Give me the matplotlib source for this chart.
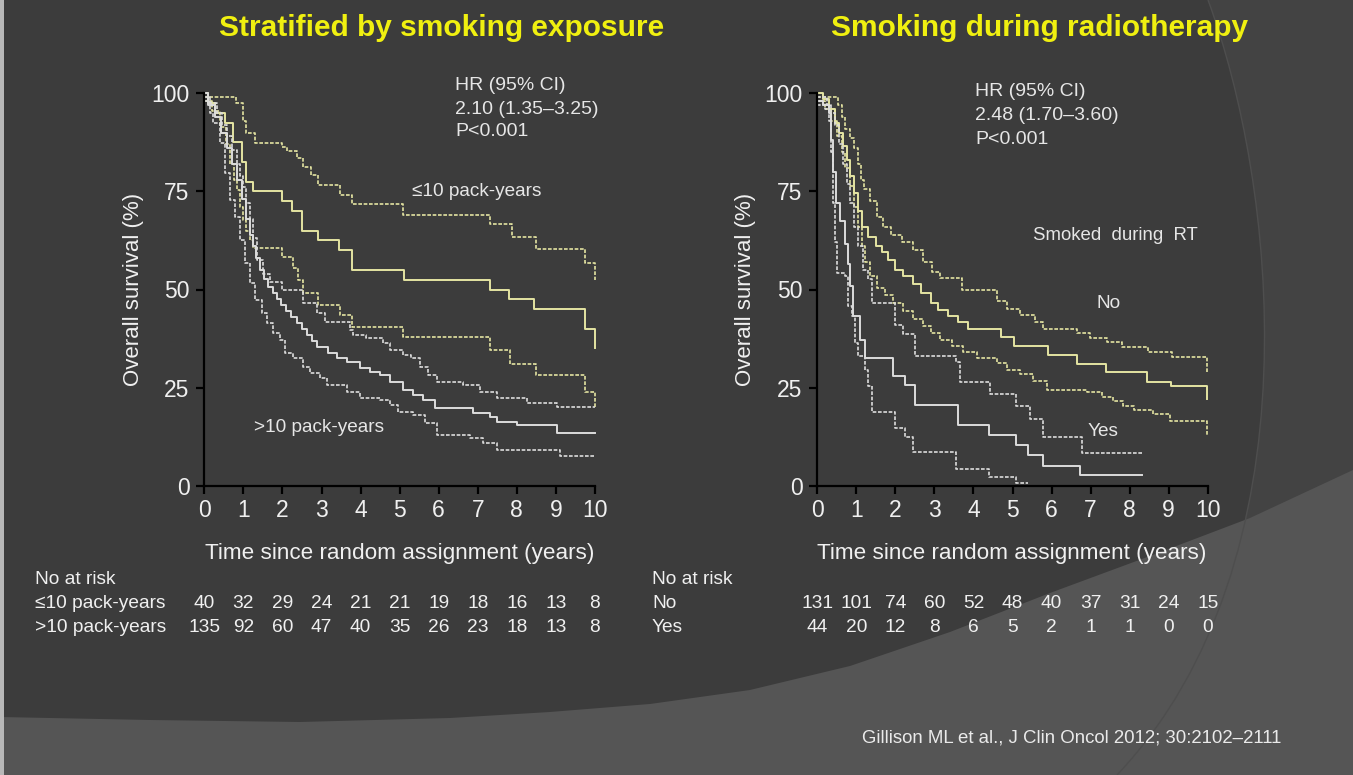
import numpy as np
import matplotlib
matplotlib.use("Agg")
import matplotlib.pyplot as plt
from matplotlib.patches import Polygon, PathPatch, Rectangle
from matplotlib.path import Path
from matplotlib.transforms import blended_transform_factory

plt.rcParams['font.family'] = ['Liberation Sans', 'DejaVu Sans']

# ---------------- data ----------------
years = list(range(0, 11))
surv_ticks = [0, 25, 50, 75, 100]

# Panel A: stratified by smoking exposure (Kaplan-Meier steps, % surviving)
low_t = [0, 0.1, 0.27, 0.53, 0.74, 0.96, 1.08, 1.25, 1.98, 2.24, 2.5, 2.9, 3.45,
         3.78, 5.1, 7.3, 7.8, 8.45, 9.75, 10.0]
low_s = [100, 97.5, 95, 92.5, 87.5, 82.5, 77.5, 75, 72.5, 70, 65, 62.5, 60,
         55, 52.5, 50, 47.5, 45, 40, 35]
low_hi_t = [0, 0.8, 1.0, 1.08, 1.3, 1.98, 2.12, 2.36, 2.53, 2.72, 2.92, 3.47, 3.77,
            5.09, 7.31, 7.87, 8.5, 9.74, 10.0]
low_hi_s = [99, 97.5, 93, 89.8, 87.4, 86.2, 85.2, 83.4, 81.3, 79.2, 76.6, 74.1, 71.8,
            69, 66.7, 63.5, 60.2, 56.7, 52.4]
low_lo_t = [0, 0.2, 0.4, 0.55, 0.66, 0.75, 0.83, 0.92, 1.0, 1.08, 1.17, 1.25, 1.98,
            2.28, 2.4, 2.53, 2.92, 3.47, 3.77, 5.09, 7.31, 7.82, 8.5, 9.74, 10.0]
low_lo_s = [98, 95.5, 91.5, 87, 82, 78, 75.4, 71, 67.7, 65, 62.6, 60.5, 58.2,
            55.4, 52.4, 49, 46, 43.5, 40.5, 37.8, 34.7, 31, 28.2, 24, 19.7]

high_t = [0, 0.1, 0.27, 0.44, 0.57, 0.7, 0.83, 0.96, 1.08, 1.17, 1.25, 1.33, 1.42,
          1.53, 1.64, 1.75, 1.85, 1.97, 2.1, 2.23, 2.36, 2.49, 2.62, 2.75, 2.88,
          3.17, 3.4, 3.64, 3.98, 4.25, 4.5, 4.75, 5.09, 5.35, 5.6, 5.9, 6.89,
          7.31, 7.48, 8.0, 9.02, 10.0]
high_s = [100, 97, 94, 90, 86, 82, 78, 73, 68, 64, 61, 58, 55,
          52.8, 50.7, 49.2, 47.7, 46, 44.4, 42.9, 41.4, 39.9, 38.4, 36.9, 35.4,
          33.7, 32.6, 31.6, 29.9, 29, 28.2, 26.5, 24.4, 23.1, 21.8, 19.7, 18.4,
          17.6, 16.3, 15.5, 13.5, 13.5]
high_hi_t = [0, 0.15, 0.32, 0.45, 0.57, 0.7, 0.83, 0.92, 1.0, 1.08, 1.17, 1.25, 1.34,
             1.5, 1.68, 1.98, 2.53, 2.88, 3.09, 3.73, 3.81, 4.15, 4.58, 4.75, 5.09,
             5.3, 5.52, 5.73, 5.95, 6.63, 7.06, 7.48, 8.25, 9.02, 10.0]
high_hi_s = [99, 97.5, 95, 92, 89, 85.5, 82, 79, 76, 72, 68, 63, 57.5,
             54, 52, 49.9, 46.5, 43.9, 41.8, 39.6, 38.4, 37.6, 36.3, 34.6, 33.3,
             32.5, 30.3, 28.2, 26.5, 25.7, 24, 22.3, 21, 20, 20]
high_lo_t = [0, 0.15, 0.23, 0.4, 0.53, 0.66, 0.79, 0.91, 1.04, 1.17, 1.3, 1.47, 1.6,
             1.77, 1.94, 2.06, 2.28, 2.53, 2.7, 2.96, 3.13, 3.64, 3.98, 4.5, 4.75,
             4.97, 5.35, 5.65, 5.95, 6.8, 7.14, 7.48, 9.1, 10.0]
high_lo_s = [98, 95, 92.4, 87.3, 79.6, 72.8, 68.6, 62.6, 56.7, 51.6, 47.3, 43.9, 41.4,
             38.8, 37.1, 33.7, 32.5, 30.3, 28.6, 27.4, 25.7, 24, 22.3, 21.8, 20.6,
             18.9, 18, 15.9, 12.9, 12.1, 10.8, 9.1, 7.6, 7.6]

# Panel B: smoking during radiotherapy
no_t = [0, 0.15, 0.3, 0.45, 0.55, 0.65, 0.75, 0.85, 0.95, 1.05, 1.15, 1.3, 1.5,
        1.65, 1.8, 2.0, 2.2, 2.45, 2.65, 2.9, 3.1, 3.35, 3.6, 3.85, 4.7, 5.05,
        5.9, 6.65, 7.4, 8.45, 9.05, 9.97]
no_s = [100, 98.5, 96, 92.5, 90, 86.5, 83, 79, 74.5, 70, 66, 63.5, 61,
        59.5, 57.5, 55, 53.5, 51.5, 49, 46.5, 44.8, 43.2, 41.6, 40, 37.8, 35.6,
        33.4, 31, 28.9, 26.5, 25.3, 22]
no_hi_t = [0, 0.54, 0.62, 0.72, 0.84, 0.95, 1.05, 1.12, 1.2, 1.35, 1.52, 1.69, 1.9,
           2.16, 2.46, 2.72, 2.93, 3.14, 3.7, 4.6, 4.85, 5.19, 5.58, 5.79, 6.64,
           6.99, 7.41, 7.8, 8.48, 9.08, 9.97]
no_hi_s = [99, 97, 94, 91, 88.5, 86, 82, 78, 75.5, 72.5, 68.5, 66, 64,
           62, 60, 57, 54.5, 53, 50, 47, 45.1, 43.5, 41.6, 40, 38.9,
           37.7, 36.5, 35.4, 34, 32.8, 29]
no_lo_t = [0, 0.2, 0.35, 0.5, 0.62, 0.72, 0.84, 0.95, 1.05, 1.14, 1.22, 1.35, 1.52,
           1.73, 1.95, 2.2, 2.45, 2.7, 2.9, 3.14, 3.45, 3.74, 4.08, 4.6, 4.85,
           5.19, 5.53, 5.88, 6.9, 7.28, 7.58, 7.84, 8.1, 8.61, 9.04, 9.97]
no_lo_s = [98, 96, 93, 89, 85, 81, 76.5, 71, 66, 61, 57, 53.5, 50.5,
           48.5, 46.5, 44.5, 42.5, 40.6, 38.8, 37.2, 35.6, 34, 32.6, 31.2, 29.4,
           28.4, 26.8, 24.5, 24, 22.6, 21.5, 20.3, 19.3, 18.3, 16.6, 13]

yes_t = [0, 0.15, 0.3, 0.35, 0.4, 0.47, 0.58, 0.71, 0.79, 0.85, 0.92, 1.09, 1.22,
         1.95, 2.25, 2.5, 3.6, 4.4, 5.1, 5.4, 5.78, 6.73, 8.31]
yes_s = [98, 97, 95, 88, 80, 72, 67.5, 61.5, 56.4, 50.9, 43.2, 37.2, 32.5,
         27.9, 25.7, 20.6, 15.4, 12.8, 10.3, 7.8, 4.9, 2.7, 2.7]
yes_hi_t = [0, 0.25, 0.35, 0.45, 0.55, 0.65, 0.75, 0.85, 0.95, 1.05, 1.18, 1.31,
            1.39, 1.99, 2.2, 2.5, 3.55, 3.65, 4.42, 5.1, 5.45, 5.79, 6.77, 8.31]
yes_hi_s = [99, 97, 95, 92, 87, 82, 77, 72, 66, 61, 55, 52.6,
            46.5, 41, 38.6, 33, 31.4, 26.4, 23.4, 20.2, 17, 12.4, 8.3, 8.3]
yes_lo_t = [0, 0.2, 0.3, 0.35, 0.4, 0.45, 0.5, 0.71, 0.79, 0.88, 0.97, 1.05, 1.22,
            1.31, 1.39, 1.99, 2.25, 2.46, 3.55, 4.4, 5.1, 5.4]
yes_lo_s = [97, 96, 93, 85, 72, 62, 54.3, 53.4, 45.7, 43.2, 36.4, 33, 29.6,
            25.3, 18.9, 14.7, 12.5, 8.7, 4.2, 2.3, 0.8, 0.8]

# Numbers at risk
risk_a_labels = ["\u226410 pack-years", ">10 pack-years"]
risk_a = [[40, 32, 29, 24, 21, 21, 19, 18, 16, 13, 8],
          [135, 92, 60, 47, 40, 35, 26, 23, 18, 13, 8]]
risk_b_labels = ["No", "Yes"]
risk_b = [[131, 101, 74, 60, 52, 48, 40, 37, 31, 24, 15],
          [44, 20, 12, 8, 6, 5, 2, 1, 1, 0, 0]]

titles = ["Stratified by smoking exposure", "Smoking during radiotherapy"]
hr_text = [["HR (95% CI)", "2.10 (1.35\u20133.25)", "P<0.001"],
           ["HR (95% CI)", "2.48 (1.70\u20133.60)", "P<0.001"]]
citation = "Gillison ML et al., J Clin Oncol 2012; 30:2102\u20132111"

# ---------------- figure ----------------
W, H = 1353, 775
fig = plt.figure(figsize=(W / 100, H / 100), dpi=100)

BG_DARK = "#3c3c3c"
BG_RIGHT = "#434343"
BG_LOW = "#555555"
TXT = "#f0f0f0"
YEL = "#e4e4a2"
WHT = "#dcdcdc"
TITLE = "#f0f010"

bg = fig.add_axes([0, 0, 1, 1], zorder=-10)
bg.set_xlim(0, W)
bg.set_ylim(H, 0)
bg.axis("off")
bg.add_patch(Rectangle((0, 0), W, H, color=BG_DARK, lw=0))
arc_verts = [(1208, 0), (1275, 180), (1320, 560), (1117, 775)]
arc_path = Path(arc_verts + [(W, H), (W, 0), (1208, 0)],
                [Path.MOVETO, Path.CURVE4, Path.CURVE4, Path.CURVE4,
                 Path.LINETO, Path.LINETO, Path.CLOSEPOLY])
bg.add_patch(PathPatch(arc_path, facecolor=BG_RIGHT, lw=0))
swoosh = [(0, 717), (150, 720), (300, 722), (450, 718), (550, 712), (650, 704),
          (750, 690), (850, 666), (950, 632), (1050, 593), (1150, 556),
          (1250, 518), (1353, 470), (1353, 775), (0, 775)]
bg.add_patch(Polygon(swoosh, closed=True, facecolor=BG_LOW, lw=0))
bg.add_patch(PathPatch(Path(arc_verts, [Path.MOVETO, Path.CURVE4, Path.CURVE4, Path.CURVE4]),
                       facecolor="none", edgecolor="#4e4e4e", lw=1.0))
bg.add_patch(Rectangle((0, 0), 4, H, color="#b8b8b8", lw=0))


def fx(px):
    return px / W


def fy(py):
    return 1 - py / H


def make_axes(x0, x1):
    ax = fig.add_axes([fx(x0), fy(485.7), fx(x1) - fx(x0), (485.7 - 93.3) / H])
    ax.set_facecolor("none")
    ax.set_xlim(0, 10)
    ax.set_ylim(0, 100)
    for s in ("top", "right"):
        ax.spines[s].set_visible(False)
    for s in ("left", "bottom"):
        ax.spines[s].set_color("black")
        ax.spines[s].set_linewidth(1.6)
    ax.set_xticks(years)
    ax.set_yticks(surv_ticks)
    ax.tick_params(direction="out", length=5.5, width=1.6, color="black",
                   labelcolor=TXT, labelsize=16.5)
    ax.tick_params(axis="y", pad=5)
    ax.tick_params(axis="x", pad=4)
    return ax


def km(ax, t, s, color, dashed=False):
    kw = dict(where="post", color=color, lw=1.4, clip_on=False)
    if dashed:
        kw.update(ls=(0, (2.2, 1.0)), lw=1.2)
    ax.step(t, s, **kw)


ax1 = make_axes(204.3, 595.0)
ax2 = make_axes(817.3, 1207.7)

for ax, groups in (
    (ax1, [(low_t, low_s, low_hi_t, low_hi_s, low_lo_t, low_lo_s, YEL),
           (high_t, high_s, high_hi_t, high_hi_s, high_lo_t, high_lo_s, WHT)]),
    (ax2, [(no_t, no_s, no_hi_t, no_hi_s, no_lo_t, no_lo_s, YEL),
           (yes_t, yes_s, yes_hi_t, yes_hi_s, yes_lo_t, yes_lo_s, WHT)]),
):
    for t, s, th, sh, tl, sl, c in groups:
        km(ax, th, sh, c, dashed=True)
        km(ax, tl, sl, c, dashed=True)
        km(ax, t, s, c)

# axis labels
for ax, xc, ylx in ((ax1, 400, 133), (ax2, 1012, 745)):
    fig.text(fx(xc), fy(553), "Time since random assignment (years)", color=TXT,
             fontsize=16.2, ha="center", va="center")
    fig.text(fx(ylx), fy(289), "Overall survival (%)", color=TXT, fontsize=16,
             rotation=90, ha="center", va="center")

# titles
fig.text(fx(441.5), fy(28), titles[0], color=TITLE, fontsize=21.5,
         fontweight="bold", ha="center", va="center")
fig.text(fx(1039.5), fy(28), titles[1], color=TITLE, fontsize=21.5,
         fontweight="bold", ha="center", va="center")

# hazard ratio annotations
for lines, x0, ys in ((hr_text[0], 455, (85, 110, 132)),
                      (hr_text[1], 975, (91, 116, 140))):
    for txt, yy in zip(lines, ys):
        fig.text(fx(x0), fy(yy), txt, color="#e6e6e6", fontsize=14,
                 ha="left", va="center")

# curve labels
fig.text(fx(412), fy(191), "\u226410 pack-years", color="#e6e6e6", fontsize=13.7,
         ha="left", va="center")
fig.text(fx(254), fy(428), ">10 pack-years", color="#e6e6e6", fontsize=13.7,
         ha="left", va="center")
fig.text(fx(1033), fy(236), "Smoked  during  RT", color="#e6e6e6", fontsize=13.4,
         ha="left", va="center")
fig.text(fx(1097), fy(303), "No", color="#e6e6e6", fontsize=13.7, ha="left", va="center")
fig.text(fx(1088), fy(431), "Yes", color="#e6e6e6", fontsize=13.7, ha="left", va="center")

# numbers at risk
for ax, x_lab, labels, rows in ((ax1, 35, risk_a_labels, risk_a),
                                (ax2, 652, risk_b_labels, risk_b)):
    fig.text(fx(x_lab), fy(580), "No at risk", color=TXT, fontsize=13.8,
             ha="left", va="center")
    tr = blended_transform_factory(ax.transData, fig.transFigure)
    for lab, row, yy in zip(labels, rows, (604, 628)):
        fig.text(fx(x_lab), fy(yy), lab, color=TXT, fontsize=13.8, ha="left", va="center")
        for yr, n in zip(years, row):
            ax.text(yr, fy(yy), str(n), transform=tr, color=TXT, fontsize=13.8,
                    ha="center", va="center", clip_on=False)

fig.text(fx(862), fy(738), citation, color="#eaeaea", fontsize=13.4, ha="left", va="center")

fig.savefig("out.png", dpi=100, facecolor=BG_DARK)
